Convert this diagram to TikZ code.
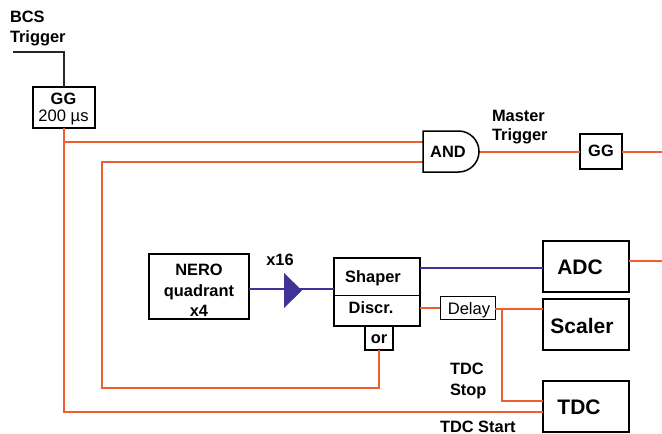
\documentclass[tikz,border=0pt]{standalone}
\usepackage{fontspec}
\setmainfont{Liberation Sans}
\definecolor{wireo}{HTML}{EE5F30}
\definecolor{wireb}{HTML}{3F3399}
\tikzset{
  x=1pt,y=-1pt,
  box/.style={draw=black,line width=1.5pt,fill=white,inner sep=0pt,outer sep=0pt},
  thinbox/.style={box,line width=1pt},
  lab/.style={inner sep=0pt,outer sep=0pt,font=\fontsize{16.4}{18}\selectfont\bfseries,anchor=base},
  labw/.style={lab,anchor=base west},
  big/.style={lab,font=\fontsize{21}{24}\selectfont\bfseries},
  reg/.style={lab,font=\fontsize{16.6}{18}\selectfont},
  owire/.style={draw=wireo,line width=1.3pt},
  bwire/.style={draw=wireb,line width=1.3pt},
  kwire/.style={draw=black!85,line width=1.2pt},
}
\begin{document}
\begin{tikzpicture}
\path[use as bounding box,fill=white] (0,0) rectangle (662,434);
% free ends and inputs
\coordinate (bcs) at (13,52);
\coordinate (edgeA) at (662,152);
\coordinate (edgeB) at (662,261);
\coordinate (andA) at (423,142);
\coordinate (andB) at (423,162);
\coordinate (andOut) at (479,152);
\coordinate (tdcStart) at (543,412);
\coordinate (tdcStop) at (543,401);
\coordinate (branch) at (502,309);
\coordinate (orTurn) at (102,388);
% boxes
\node[box,minimum width=62pt,minimum height=41pt] (gg) at (64,107.5) {};
\node[box,minimum width=100pt,minimum height=65pt] (nero) at (199,286.5) {};
\node[box,minimum width=86pt,minimum height=68pt] (shaper) at (377,292) {};
\node[box,minimum width=28pt,minimum height=24pt] (orbox) at (379,338) {};
\node[thinbox,minimum width=55pt,minimum height=23pt] (delay) at (467.5,308) {};
\node[box,minimum width=86pt,minimum height=51pt] (adc) at (586,266.5) {};
\node[box,minimum width=86pt,minimum height=51pt] (scaler) at (586,324.5) {};
\node[box,minimum width=86pt,minimum height=51pt] (tdc) at (586,406.5) {};
\node[box,minimum width=42pt,minimum height=35pt] (gg2) at (601,151.5) {};
% wires
\draw[kwire] (bcs) -| (gg.north);
\draw[owire] (gg.south) |- (tdcStart);
\draw[owire] (gg.south |- andA) -- (andA);
\draw[owire] (orbox.south) |- (orTurn) |- (andB);
\draw[owire] (andOut) -- (gg2.west |- andOut);
\draw[owire] (gg2.east |- andOut) -- (edgeA);
\draw[owire] (adc.east |- edgeB) -- (edgeB);
\draw[owire] (shaper.east |- delay) -- (delay.west);
\draw[owire] (delay.east |- branch) -- (scaler.west |- branch);
\draw[owire] (branch) |- (tdcStop);
\draw[bwire] (nero.east |- 0,289) -- (shaper.west |- 0,289);
\draw[bwire] (shaper.east |- 0,268) -- (adc.west |- 0,268);
\fill[wireb] (284,273) -- (302,290.5) -- (284,308) -- cycle;
% AND gate
\draw[box] (423,131) -- (458.5,131) arc[start angle=-90,end angle=90,radius=20.5pt,y radius=-20.5pt] -- (423,172) -- cycle;
% divider
\draw[black,line width=1pt] (shaper.west |- 0,295.5) -- (shaper.east |- 0,295.5);
% texts
\node[labw] (t1) at (10,22) {BCS};
\node[labw] (t2) at (10,42) {Trigger};
\node[lab] (t3) at (63.5,104.5) {GG};
\node[reg] (t4) at (63.5,121.5) {200 µs};
\node[lab] (t5) at (448,157.5) {AND};
\node[labw] (t6) at (492,121) {Master};
\node[labw] (t7) at (492,140) {Trigger};
\node[lab] (t8) at (601,156.5) {GG};
\node[lab] (t9) at (199,275) {NERO};
\node[lab] (t10) at (199,296) {quadrant};
\node[lab] (t11) at (199,316) {x4};
\node[lab] (t12) at (280,265) {x16};
\node[lab] (t13) at (373,282.5) {Shaper};
\node[lab] (t14) at (371,313) {Discr.};
\node[lab] (t15) at (379,343) {or};
\node[reg] (t16) at (469,314) {Delay};
\node[big] (t17) at (580,274.5) {ADC};
\node[big] (t18) at (582,333.5) {Scaler};
\node[big] (t19) at (579,414.5) {TDC};
\node[labw] (t20) at (450,374) {TDC};
\node[labw] (t21) at (450,395) {Stop};
\node[labw] (t22) at (440,432) {TDC Start};
\end{tikzpicture}
\end{document}
